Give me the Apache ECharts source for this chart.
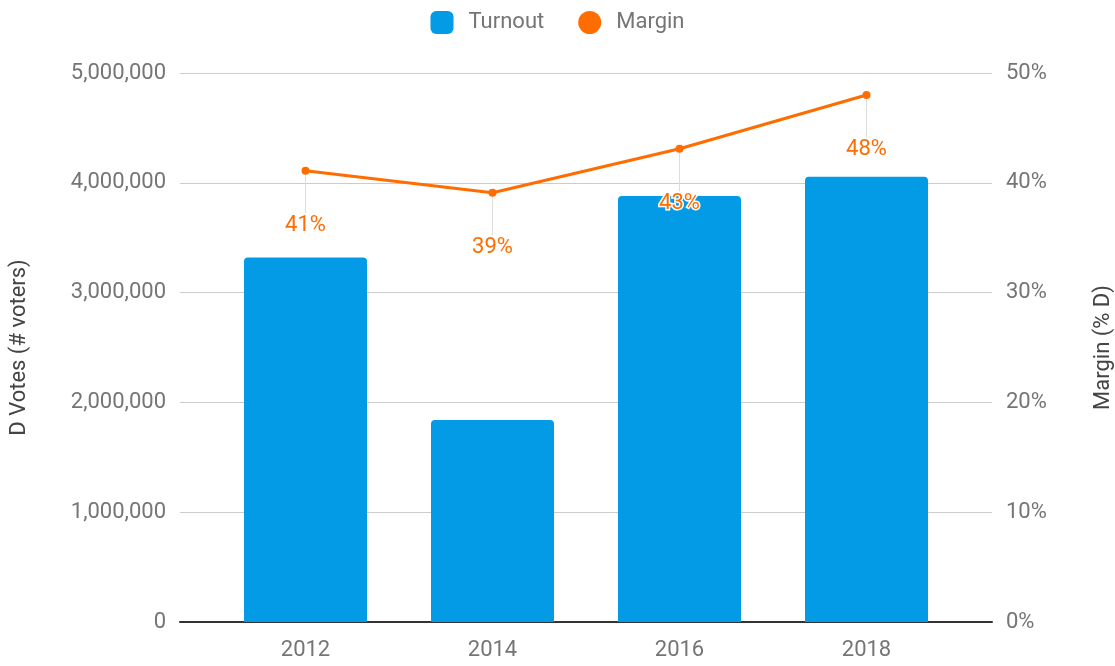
<!DOCTYPE html>
<html>
<head>
<meta charset="utf-8">
<script src="https://cdn.jsdelivr.net/npm/echarts@6/dist/echarts.min.js"></script>
<style>
    html, body { margin: 0; padding: 0; background: #fff; }
    #chart { width: 1115px; height: 666px; }
</style>
</head>
<body>
<div id="chart"></div>
<script>
// data
var years = ['2012', '2014', '2016', '2018'];
var turnout = [3320000, 1840000, 3880000, 4055000];
var margin = [41.1, 39.1, 43.1, 48.0];

var FONT = 'Roboto, "Noto Sans", sans-serif';
var GRAY = '#757575';
var BLUE = '#039be5';
var ORANGE = '#ff6d01';

function fmtNum(v) {
    return v.toString().replace(/\B(?=(\d{3})+(?!\d))/g, ',');
}

var myChart = echarts.init(document.getElementById('chart'));

var option = {
    backgroundColor: '#fff',
    animation: false,
    legend: {
        top: 6,
        left: 'center',
        itemWidth: 23,
        itemHeight: 23,
        itemGap: 34,
        textStyle: {
            color: GRAY,
            fontSize: 22,
            fontFamily: FONT,
            padding: [0, 0, 0, 10]
        },
        data: [
            { name: 'Turnout', icon: 'roundRect' },
            { name: 'Margin', icon: 'circle' }
        ]
    },
    grid: [
        { left: 180, right: 123, top: 73, bottom: 44, outerBoundsMode: 'none' },
        { left: 212, right: 155, top: 73, bottom: 44, outerBoundsMode: 'none' }
    ],
    xAxis: [
        {
            gridIndex: 0,
            type: 'category',
            data: [''],
            axisLine: { show: true, lineStyle: { color: '#333', width: 2 } },
            axisTick: { show: false },
            axisLabel: { show: false }
        },
        {
            gridIndex: 1,
            type: 'category',
            data: years,
            axisLine: { show: false },
            axisTick: { show: false },
            axisLabel: {
                color: GRAY,
                fontSize: 22,
                fontFamily: FONT,
                margin: 17
            }
        }
    ],
    yAxis: [
        {
            gridIndex: 0,
            type: 'value',
            min: 0,
            max: 5000000,
            interval: 1000000,
            name: 'D Votes (# voters)',
            nameLocation: 'middle',
            nameGap: 150,
            nameTextStyle: { color: '#444', fontSize: 22, fontFamily: FONT },
            axisLine: { show: false },
            axisTick: { show: false },
            axisLabel: {
                color: GRAY,
                fontSize: 22,
                fontFamily: FONT,
                margin: 14,
                formatter: fmtNum
            },
            splitLine: { lineStyle: { color: '#cccccc', width: 1 } }
        },
        {
            gridIndex: 0,
            type: 'value',
            position: 'right',
            min: 0,
            max: 50,
            interval: 10,
            name: 'Margin (% D)',
            nameLocation: 'middle',
            nameGap: 100,
            nameTextStyle: { color: '#444', fontSize: 22, fontFamily: FONT },
            axisLine: { show: false },
            axisTick: { show: false },
            axisLabel: {
                color: GRAY,
                fontSize: 22,
                fontFamily: FONT,
                margin: 14,
                formatter: '{value}%'
            },
            splitLine: { show: false }
        },
        {
            gridIndex: 1,
            type: 'value',
            min: 0,
            max: 5000000,
            show: false
        },
        {
            gridIndex: 1,
            type: 'value',
            min: 0,
            max: 50,
            show: false
        }
    ],
    series: [
        {
            name: 'Turnout',
            type: 'bar',
            xAxisIndex: 1,
            yAxisIndex: 2,
            barWidth: 123,
            data: turnout,
            itemStyle: { color: BLUE, borderRadius: [4, 4, 0, 0] },
            z: 2
        },
        {
            name: 'Margin',
            type: 'line',
            xAxisIndex: 1,
            yAxisIndex: 3,
            data: margin,
            symbol: 'circle',
            symbolSize: 8,
            lineStyle: { color: ORANGE, width: 3 },
            itemStyle: { color: ORANGE },
            label: {
                show: true,
                position: 'bottom',
                distance: 4,
                color: ORANGE,
                fontSize: 22,
                fontFamily: FONT,
                textBorderColor: '#fff',
                textBorderWidth: 3,
                formatter: function (p) {
                    return Math.round(p.value) + '%';
                }
            },
            labelLayout: { dy: 36 },
            labelLine: {
                show: true,
                lineStyle: { color: '#dddddd', width: 1 }
            },
            z: 3
        }
    ]
};

myChart.setOption(option);
</script>
</body>
</html>
